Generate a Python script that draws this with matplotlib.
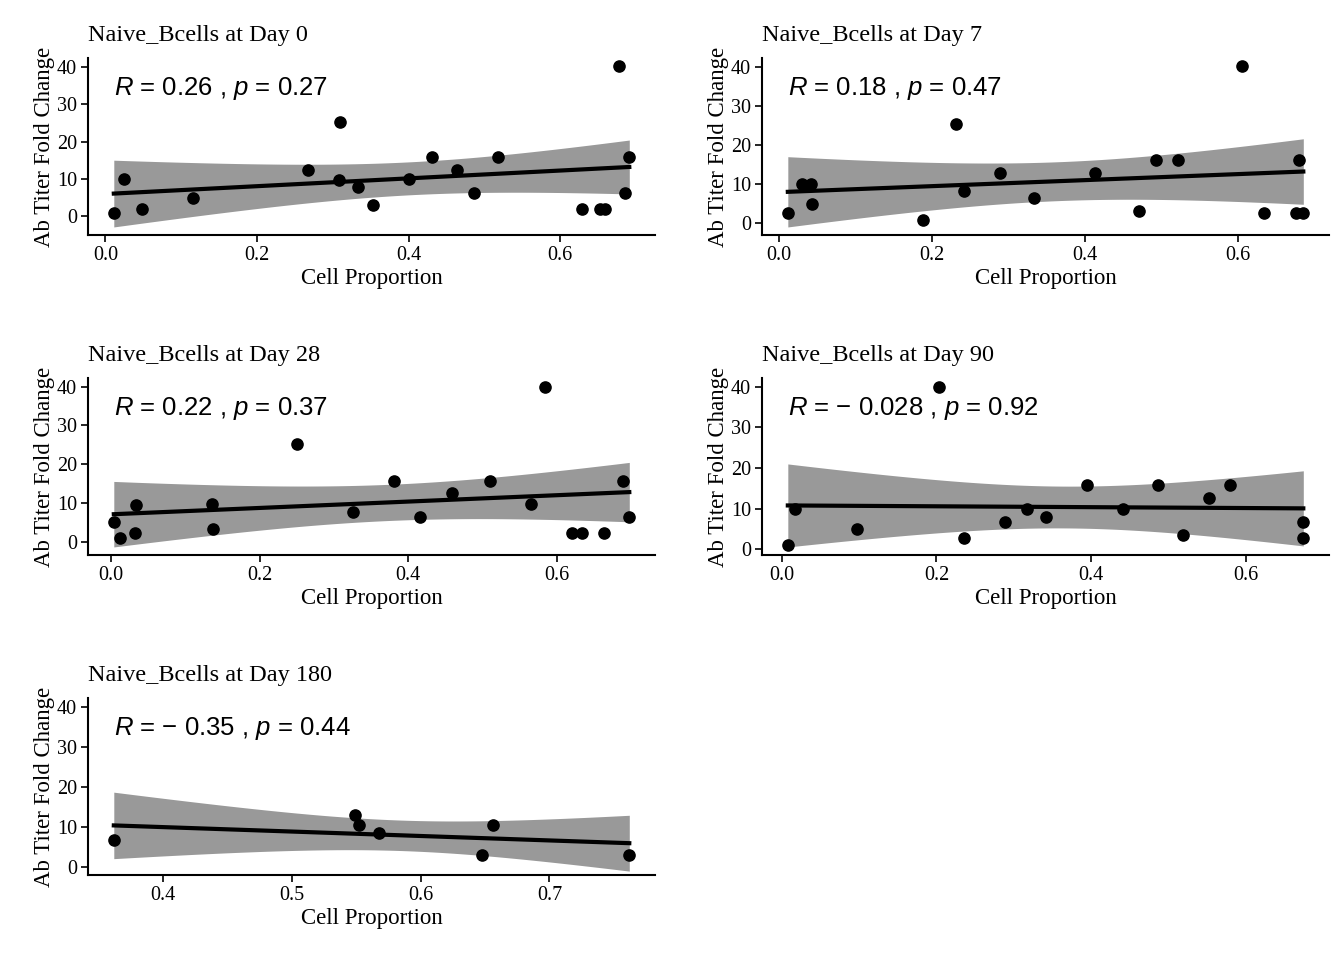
import numpy as np
import matplotlib
matplotlib.use("Agg")
import matplotlib.pyplot as plt

plt.rcParams['mathtext.fontset'] = 'custom'
plt.rcParams['mathtext.it'] = 'Liberation Sans:italic'
plt.rcParams['mathtext.rm'] = 'Liberation Sans'

titles = ["Naive_Bcells at Day 0", "Naive_Bcells at Day 7", "Naive_Bcells at Day 28",
          "Naive_Bcells at Day 90", "Naive_Bcells at Day 180"]
labels = ["$\\it{R}$ = 0.26 , $\\it{p}$ = 0.27", "$\\it{R}$ = 0.18 , $\\it{p}$ = 0.47",
          "$\\it{R}$ = 0.22 , $\\it{p}$ = 0.37", "$\\it{R}$ = \u2212 0.028 , $\\it{p}$ = 0.92",
          "$\\it{R}$ = \u2212 0.35 , $\\it{p}$ = 0.44"]

x0 = [0.011,0.024,0.048,0.116,0.267,0.309,0.308,0.333,0.353,0.400,0.431,0.464,0.486,0.518,0.629,0.653,0.659,0.677,0.685,0.691]
y0 = [1,10,2.1,4.8,12.3,25.2,9.7,7.8,3,9.9,15.8,12.3,6.2,15.8,2.1,2.1,2.1,40.3,6.2,15.8]
x7 = [0.012,0.031,0.042,0.044,0.188,0.231,0.242,0.289,0.333,0.413,0.471,0.493,0.522,0.605,0.634,0.675,0.680,0.685]
y7 = [2.8,10,10,5.1,1,25.4,8.2,12.8,6.4,12.8,3.3,16.2,16.2,40.3,2.8,2.8,16.2,2.8]
x28 = [0.004,0.012,0.034,0.032,0.136,0.137,0.250,0.325,0.381,0.415,0.458,0.510,0.565,0.584,0.620,0.634,0.663,0.689,0.697]
y28 = [5.1,1,9.7,2.5,9.9,3.3,25.2,7.9,15.8,6.4,12.7,15.8,9.9,40,2.5,2.5,2.5,15.8,6.4]
x90 = [0.008,0.017,0.097,0.203,0.236,0.288,0.317,0.341,0.395,0.441,0.486,0.519,0.552,0.579,0.674,0.674]
y90 = [1,10,5.1,40,2.7,6.6,10,8,15.9,10,15.9,3.4,12.7,15.9,6.6,2.7]
x180 = [0.362,0.549,0.552,0.568,0.648,0.656,0.762]
y180 = [6.9,13.1,10.5,8.5,3.1,10.5,3.1]

datasets = [(x0,y0),(x7,y7),(x28,y28),(x90,y90),(x180,y180)]
xticks = [[0,0.2,0.4,0.6]]*4 + [[0.4,0.5,0.6,0.7]]
xticklabels = [["0.0","0.2","0.4","0.6"]]*4 + [["0.4","0.5","0.6","0.7"]]

def tq(df):
    z = 1.959964
    return z + (z**3+z)/(4*df) + (5*z**5+16*z**3+3*z)/(96*df**2) + (3*z**7+19*z**5+17*z**3-15*z)/(384*df**3)

fig = plt.figure(figsize=(13.44, 9.6), dpi=100)
pos = [(0.0655,0.7552),(0.567,0.7552),(0.0655,0.4219),(0.567,0.4219),(0.0655,0.0885)]
serif = 'Liberation Serif'
for i,(x,y) in enumerate(datasets):
    ax = fig.add_axes([pos[i][0], pos[i][1], 0.4219, 0.1844])
    x = np.array(x); y = np.array(y)
    n = len(x)
    b, a = np.polyfit(x, y, 1)
    xs = np.linspace(x.min(), x.max(), 80)
    yh = a + b*xs
    res = y - (a + b*x)
    s = np.sqrt(np.sum(res**2)/(n-2))
    se = s*np.sqrt(1/n + (xs-x.mean())**2/np.sum((x-x.mean())**2))
    t = tq(n-2)
    ax.fill_between(xs, yh-t*se, yh+t*se, color='#999999', lw=0, zorder=1)
    ax.plot(xs, yh, color='black', lw=3, zorder=2)
    ax.scatter(x, y, s=65, color='black', zorder=3)
    ax.set_yticks([0,10,20,30,40])
    ax.set_xticks(xticks[i]); ax.set_xticklabels(xticklabels[i])
    lo, hi = ax.get_ylim()
    ax.set_ylim(lo, max(hi, 42.2))
    for sp in ['top','right']: ax.spines[sp].set_visible(False)
    for sp in ['left','bottom']: ax.spines[sp].set_linewidth(1.5)
    ax.tick_params(width=1.2, length=5, labelsize=14.5, colors='black', pad=3)
    for lab in ax.get_xticklabels()+ax.get_yticklabels():
        lab.set_fontfamily(serif)
    ax.set_xlabel("Cell Proportion", fontfamily=serif, fontsize=16.5, labelpad=2)
    ax.set_ylabel("Ab Titer Fold Change", fontfamily=serif, fontsize=16.5, labelpad=1)
    ax.set_title(titles[i], fontfamily=serif, fontsize=17.5, loc='left', pad=12)
    ax.text(0.045, 0.83, labels[i], transform=ax.transAxes, fontsize=18.5,
            fontfamily='Liberation Sans', va='center', ha='left')

fig.savefig("out.png", dpi=100)
